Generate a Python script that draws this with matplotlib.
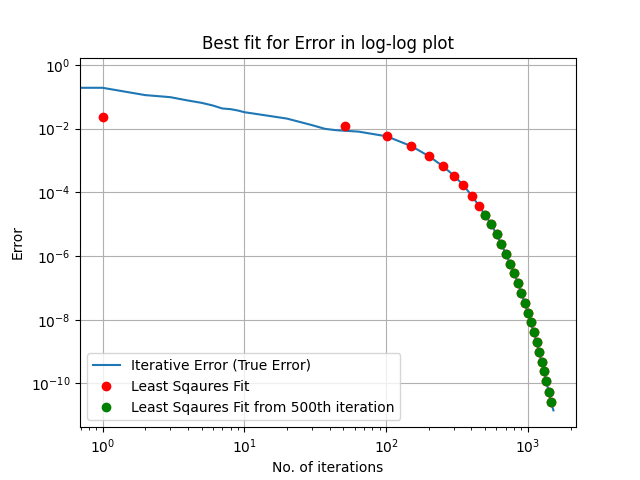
import matplotlib
matplotlib.use("Agg")
import matplotlib.pyplot as plt
import numpy as np

# =========================
# Data
# =========================
# iterative (true) error per iteration
iter_x = [0, 1, 2, 3, 4, 5, 6, 7, 8, 9, 10, 15, 20, 30, 37, 44, 64, 101,
          151, 201, 251, 301, 351, 401, 451, 501, 551, 601, 651, 701, 751,
          801, 851, 901, 951, 1001, 1051, 1101, 1151, 1201, 1251, 1301,
          1351, 1401, 1451, 1515]
iter_err = [0.5, 0.19, 0.112, 0.0966, 0.0758, 0.064, 0.0528, 0.0426, 0.0406,
            0.0368, 0.0326, 0.0249, 0.0205, 0.0128, 0.0098, 0.0089, 0.0080,
            0.0057, 2.79e-3, 1.35e-3, 6.6e-4, 3.35e-4, 1.66e-4, 7.9e-5,
            3.8e-5, 1.9e-5, 1.0e-5, 4.8e-6, 2.3e-6, 1.14e-6, 5.5e-7, 2.9e-7,
            1.4e-7, 6.8e-8, 3.3e-8, 1.6e-8, 8.3e-9, 4.0e-9, 1.96e-9, 9.5e-10,
            4.6e-10, 2.4e-10, 1.16e-10, 5.6e-11, 2.7e-11, 1.43e-11]

# least squares fit, sampled every 50 iterations
fit_x = [1, 51, 101, 151, 201, 251, 301, 351, 401, 451, 501, 551, 601, 651,
         701, 751, 801, 851, 901, 951, 1001, 1051, 1101, 1151, 1201, 1251,
         1301, 1351, 1401, 1451]
fit_err = [0.0228, 0.0119, 0.0058, 2.79e-3, 1.35e-3, 6.6e-4, 3.35e-4,
           1.66e-4, 7.9e-5, 3.8e-5, 1.9e-5, 1.0e-5, 4.8e-6, 2.3e-6, 1.14e-6,
           5.5e-7, 2.9e-7, 1.4e-7, 6.8e-8, 3.3e-8, 1.6e-8, 8.3e-9, 4.0e-9,
           1.96e-9, 9.5e-10, 4.6e-10, 2.4e-10, 1.16e-10, 5.6e-11, 2.7e-11]

# fit restricted to iterations from 500 on
fit500_x = fit_x[10:]
fit500_err = fit_err[10:]

# =========================
# Plot
# =========================
fig, ax = plt.subplots(figsize=(6.4, 4.8), dpi=100)

ax.loglog(iter_x, iter_err, label="Iterative Error (True Error)")
ax.loglog(fit_x, fit_err, "ro", label="Least Sqaures Fit")
ax.loglog(fit500_x, fit500_err, "go", label="Least Sqaures Fit from 500th iteration")

ax.set_title("Best fit for Error in log-log plot")
ax.set_xlabel("No. of iterations")
ax.set_ylabel("Error")
ax.grid(True)
ax.legend(loc="lower left")

fig.savefig("out.png")
